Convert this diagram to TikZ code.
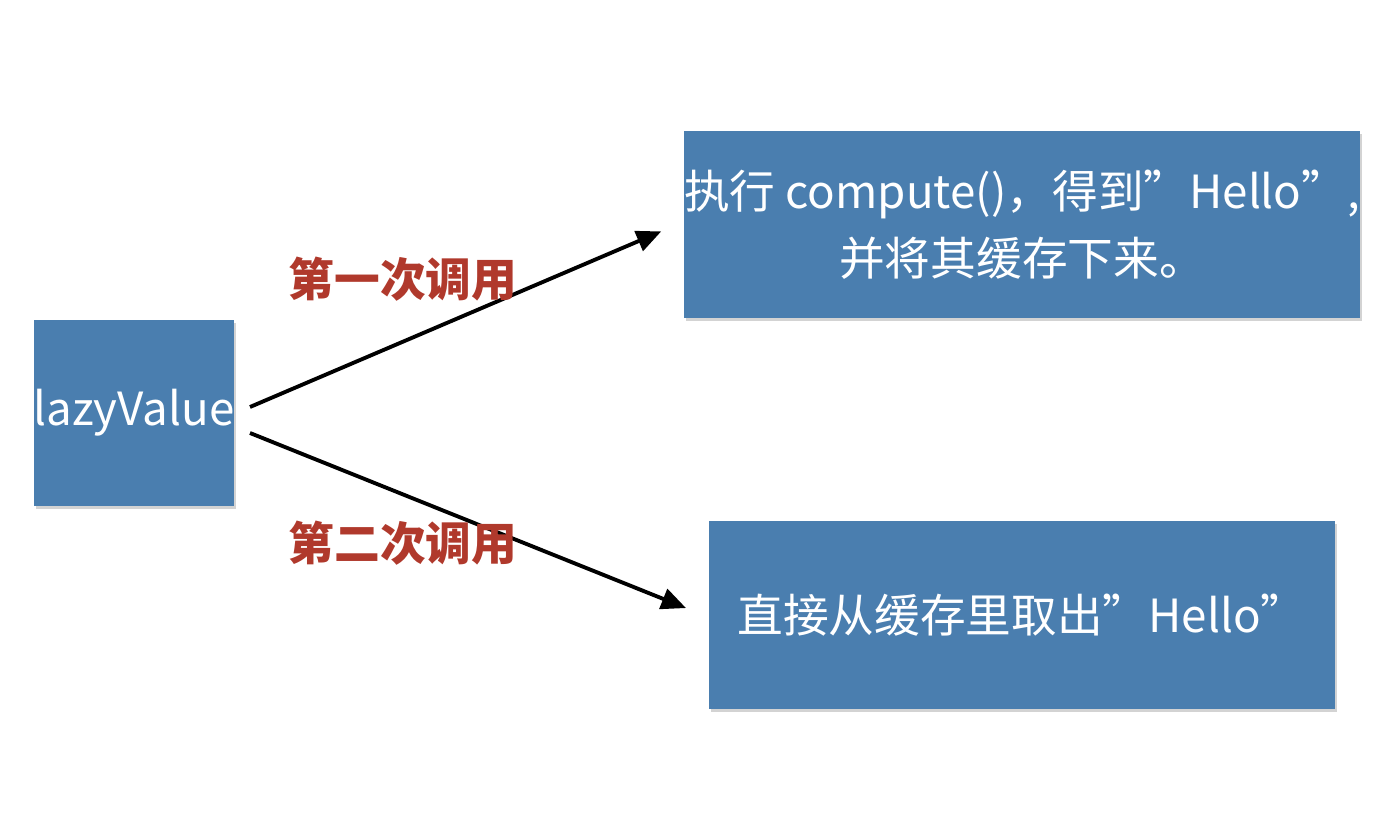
\documentclass[tikz,border=0pt]{standalone}
\usepackage{fontspec}
\usepackage{xcolor}
\setmainfont{Noto Sans CJK SC}
\usetikzlibrary{arrows.meta,shadows}
\definecolor{boxblue}{HTML}{4A7EAF}
\definecolor{labelred}{HTML}{B0392C}
\tikzset{
    box/.style = {fill = boxblue, draw = none, text = white, align = center,
        font = \fontsize{13}{19}\selectfont, inner sep = 0pt,
        drop shadow = {shadow xshift = 0.6pt, shadow yshift = -0.8pt, opacity = 0.35}},
    call/.style = {text = labelred, font = \fontsize{13}{16}\selectfont\bfseries},
    link/.style = {-{Triangle[length = 7pt, width = 6pt]}, line width = 1.1pt}
}
\begin{document}
\begin{tikzpicture}
        \useasboundingbox (0, 0) rectangle (13.88, 8.28);

        \node[box, minimum width = 1.88cm, minimum height = 1.86cm] (lazy) at (1.34, 4.15) {lazyValue};
        \node[box, minimum width = 6.26cm, minimum height = 1.87cm] (first) at (10.22, 6.03)
            {执行 compute()，得到”Hello”,\\并将其缓存下来。};
        \node[box, minimum width = 6.26cm, minimum height = 1.88cm] (second) at (10.22, 2.13)
            {直接从缓存里取出”Hello”};

        \coordinate (out1) at (2.50, 4.21);
        \coordinate (out2) at (2.50, 3.95);
        \draw[link, shorten > = 0.24cm] (out1) -- (first.west |- 0, 6.06);
        \draw[link, shorten > = 0.24cm] (out2) -- (second.west |- 0, 2.11);

        \node[call] (call1) at (4.03, 5.49) {第一次调用};
        \node[call] (call2) at (4.03, 2.85) {第二次调用};
        \end{tikzpicture}
\end{document}
